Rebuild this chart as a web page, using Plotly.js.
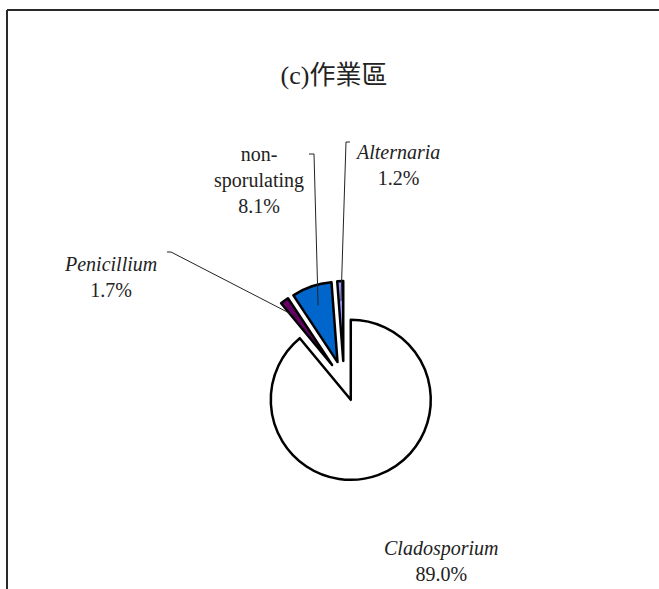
<!DOCTYPE html>
<html>
<head>
<meta charset="utf-8">
<script src="https://cdn.plot.ly/plotly-3.0.1.min.js"></script>
<style>html,body{margin:0;padding:0;background:#fff}</style>
</head>
<body>
<div id="chart" style="width:659px;height:589px"></div>
<script>
// Fungal genera found in the work area, share of total count (%)
const genera = ['Cladosporium', 'Penicillium', 'non-sporulating', 'Alternaria'];
const shares = [89.0, 1.7, 8.1, 1.2];
const sliceColors = ['#ffffff', '#660066', '#0066cc', '#9999ff'];
const labelNames = ['<i>Cladosporium</i>', '<i>Penicillium</i>', 'non-<br>sporulating', '<i>Alternaria</i>'];

const W = 659, H = 589;
const SERIF = '"Liberation Serif", "Times New Roman", serif';

// label block centres and the label-side start of each leader line (px)
const labelCentre = [[441, 561], [110, 277], [259, 180], [397, 165]];
const leaderStart = [null, [[167, 252], [171, 252]], [[309, 154], [314, 154]], [[350, 142], [346, 142]]];

const px = x => x / W;
const py = y => 1 - y / H;

const trace = {
  type: 'pie',
  values: shares,
  labels: genera,
  sort: false,
  direction: 'clockwise',
  rotation: 0,
  pull: 0.25,
  textinfo: 'none',
  hoverinfo: 'label+percent',
  showlegend: false,
  marker: { colors: sliceColors, line: { color: '#000000', width: 2.5 } },
  domain: { x: [px(244), px(444)], y: [py(481), py(281)] }
};

const annotations = genera.map((g, i) => ({
  xref: 'paper', yref: 'paper',
  x: px(labelCentre[i][0]), y: py(labelCentre[i][1]),
  xanchor: 'center', yanchor: 'middle', align: 'center',
  showarrow: false,
  text: labelNames[i] + '<br>' + shares[i].toFixed(1) + '%',
  font: { family: SERIF, size: 20, color: '#222222' }
}));

const frame = [
  { type: 'line', xref: 'paper', yref: 'paper', x0: px(7), x1: px(7), y0: py(10), y1: py(H + 5), line: { color: '#2a2a2a', width: 2 } },
  { type: 'line', xref: 'paper', yref: 'paper', x0: px(7), x1: px(W + 5), y0: py(10), y1: py(10), line: { color: '#2a2a2a', width: 2 } }
];

const layout = {
  width: W, height: H,
  margin: { l: 0, r: 0, t: 0, b: 0 },
  paper_bgcolor: '#ffffff',
  plot_bgcolor: '#ffffff',
  title: {
    text: '(c)作業區',
    x: px(334), xref: 'paper', xanchor: 'center',
    y: py(75), yref: 'paper', yanchor: 'middle',
    font: { family: '"Liberation Serif", "Noto Sans CJK TC", serif', size: 26, color: '#222222' }
  },
  annotations: annotations,
  shapes: frame
};

const gd = document.getElementById('chart');
Plotly.newPlot(gd, [trace], layout, { staticPlot: true }).then(() => {
  // leader lines run from each label to the outer middle of its pulled slice
  const cd = gd.calcdata[0];
  const c0 = cd[0];
  const leaders = [];
  cd.forEach((pt, i) => {
    const start = leaderStart[i];
    if (!start) return;
    const k = 1 + (pt.pull || 0);
    const ex = c0.cx + pt.pxmid[0] * k;
    const ey = c0.cy + pt.pxmid[1] * k;
    const path = 'M' + px(start[0][0]) + ',' + py(start[0][1]) +
                 ' L' + px(start[1][0]) + ',' + py(start[1][1]) +
                 ' L' + px(ex) + ',' + py(ey);
    leaders.push({ type: 'path', xref: 'paper', yref: 'paper', path: path, line: { color: '#222222', width: 1 } });
  });
  Plotly.relayout(gd, { shapes: frame.concat(leaders) });
});
</script>
</body>
</html>
